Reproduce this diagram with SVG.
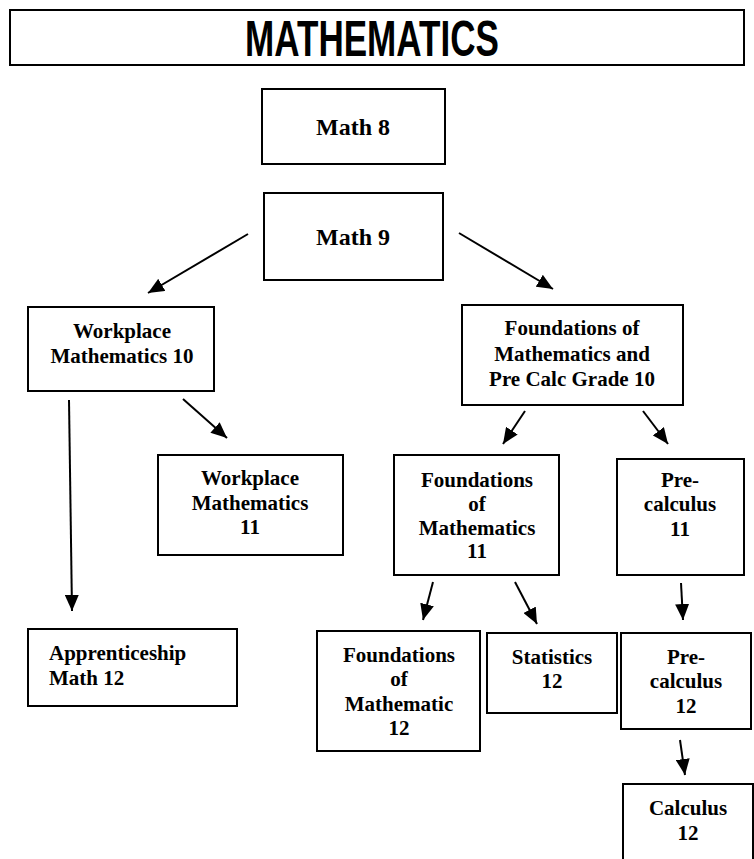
<svg xmlns="http://www.w3.org/2000/svg" width="754" height="859" viewBox="0 0 754 859">
<style>
  .box { fill: #fff; stroke: #000; stroke-width: 2; }
  .t { font-family: "Liberation Serif", "Times New Roman", serif; font-weight: bold; font-size: 21px; fill: #000; text-anchor: middle; }
  .big { font-size: 24px; }
  .left { text-anchor: start; }
  .title { font-family: "Liberation Sans", Arial, sans-serif; font-weight: bold; font-size: 50px; fill: #000; }
  .conn { stroke: #000; stroke-width: 2; fill: none; }
</style>
<defs>
  <marker id="ah" viewBox="0 0 10 10" refX="10" refY="5" markerWidth="8" markerHeight="7" markerUnits="userSpaceOnUse" orient="auto">
    <path d="M0,0 L10,5 L0,10 z" fill="#000"/>
  </marker>
  <marker id="arr" viewBox="0 0 16 14" refX="16" refY="7" markerWidth="16" markerHeight="14" markerUnits="userSpaceOnUse" orient="auto">
    <path d="M0,0 L16,7 L0,14 z" fill="#000"/>
  </marker>
</defs>
<rect width="754" height="859" fill="#fff"/>

<g id="title">
  <rect class="box" x="10" y="10" width="734" height="55"/>
  <text class="title" x="245" y="56" textLength="254" lengthAdjust="spacingAndGlyphs">MATHEMATICS</text>
</g>

<g id="math8">
  <rect class="box" x="262" y="89" width="183" height="75"/>
  <text class="t big" x="353" y="135">Math 8</text>
</g>

<g id="math9">
  <rect class="box" x="264" y="193" width="179" height="87"/>
  <text class="t big" x="353" y="245">Math 9</text>
</g>

<g id="wm10">
  <rect class="box" x="28" y="307" width="186" height="84"/>
  <text class="t" x="122" y="338">Workplace</text>
  <text class="t" x="122" y="363">Mathematics 10</text>
</g>

<g id="fm10">
  <rect class="box" x="462" y="305" width="221" height="100"/>
  <text class="t" x="572" y="335">Foundations of</text>
  <text class="t" x="572" y="361">Mathematics and</text>
  <text class="t" x="572" y="386">Pre Calc Grade 10</text>
</g>

<g id="wm11">
  <rect class="box" x="158" y="455" width="185" height="100"/>
  <text class="t" x="250" y="485">Workplace</text>
  <text class="t" x="250" y="510">Mathematics</text>
  <text class="t" x="250" y="534">11</text>
</g>

<g id="fm11">
  <rect class="box" x="394" y="455" width="165" height="120"/>
  <text class="t" x="477" y="487">Foundations</text>
  <text class="t" x="477" y="511">of</text>
  <text class="t" x="477" y="535">Mathematics</text>
  <text class="t" x="477" y="558">11</text>
</g>

<g id="pc11">
  <rect class="box" x="617" y="459" width="127" height="116"/>
  <text class="t" x="680" y="487">Pre-</text>
  <text class="t" x="680" y="511">calculus</text>
  <text class="t" x="680" y="536">11</text>
</g>

<g id="am12">
  <rect class="box" x="28" y="629" width="209" height="77"/>
  <text class="t left" x="49" y="660">Apprenticeship</text>
  <text class="t left" x="49" y="685">Math 12</text>
</g>

<g id="fm12">
  <rect class="box" x="317" y="631" width="163" height="120"/>
  <text class="t" x="399" y="662">Foundations</text>
  <text class="t" x="399" y="686">of</text>
  <text class="t" x="399" y="711">Mathematic</text>
  <text class="t" x="399" y="735">12</text>
</g>

<g id="st12">
  <rect class="box" x="487" y="633" width="130" height="80"/>
  <text class="t" x="552" y="664">Statistics</text>
  <text class="t" x="552" y="688">12</text>
</g>

<g id="pc12">
  <rect class="box" x="621" y="633" width="130" height="96"/>
  <text class="t" x="686" y="664">Pre-</text>
  <text class="t" x="686" y="688">calculus</text>
  <text class="t" x="686" y="713">12</text>
</g>

<g id="calc12">
  <rect class="box" x="623" y="784" width="130" height="90"/>
  <text class="t" x="688" y="815">Calculus</text>
  <text class="t" x="688" y="840">12</text>
</g>

<g id="connectors">
  <line class="conn" x1="248" y1="234" x2="148" y2="293" marker-end="url(#arr)"/>
  <line class="conn" x1="459" y1="233" x2="553" y2="289" marker-end="url(#arr)"/>
  <line class="conn" x1="69" y1="400" x2="72" y2="611" marker-end="url(#arr)"/>
  <line class="conn" x1="183" y1="399" x2="227" y2="438" marker-end="url(#arr)"/>
  <line class="conn" x1="525" y1="411" x2="503" y2="444" marker-end="url(#arr)"/>
  <line class="conn" x1="643" y1="411" x2="668" y2="444" marker-end="url(#arr)"/>
  <line class="conn" x1="433" y1="582" x2="423" y2="620" marker-end="url(#arr)"/>
  <line class="conn" x1="515" y1="582" x2="537" y2="624" marker-end="url(#arr)"/>
  <line class="conn" x1="681" y1="583" x2="683" y2="620" marker-end="url(#arr)"/>
  <line class="conn" x1="680" y1="740" x2="685" y2="775" marker-end="url(#arr)"/>
</g>
</svg>
